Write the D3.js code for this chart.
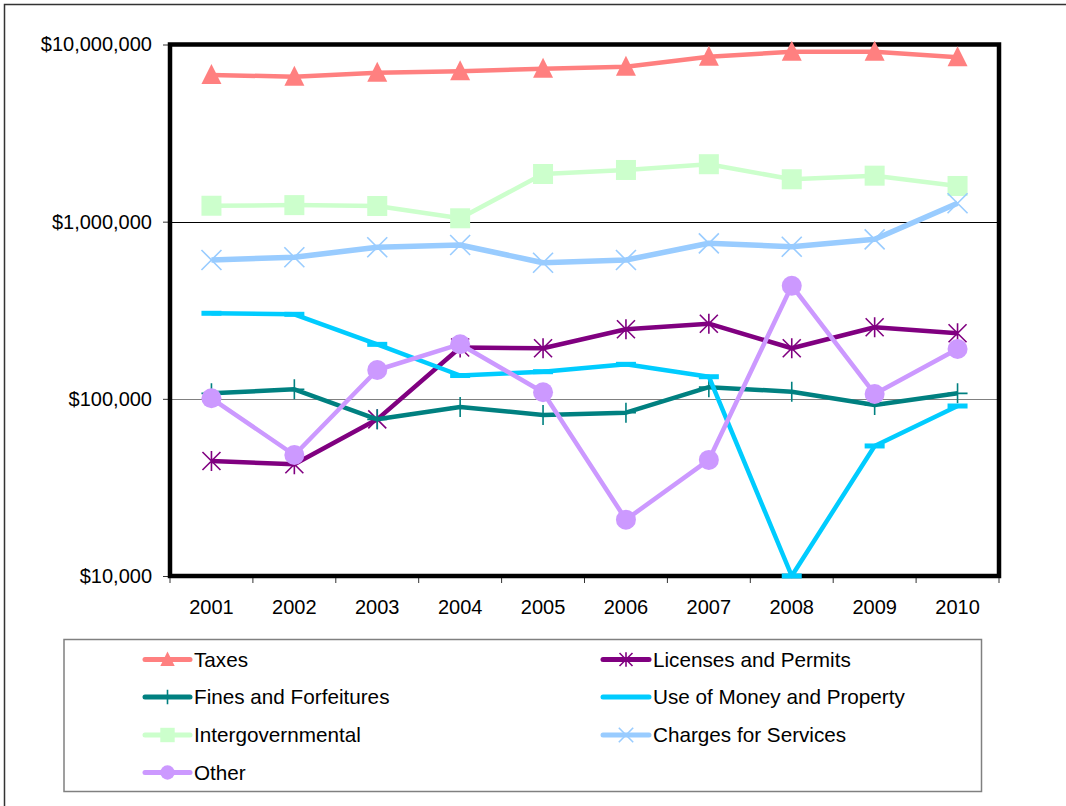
<!DOCTYPE html>
<html>
<head>
<meta charset="utf-8">
<script src="https://cdn.jsdelivr.net/npm/d3@7"></script>
<style>
  html, body { margin: 0; padding: 0; background: #fff; }
  svg { display: block; font-family: "Liberation Sans", Arial, sans-serif; }
</style>
</head>
<body>
<svg id="chart" width="1066" height="806"></svg>
<script>
// Fiscal years on the category axis
const years = ["2001", "2002", "2003", "2004", "2005", "2006", "2007", "2008", "2009", "2010"];

// Revenue by source (dollars)
const taxes              = [6730000, 6580000, 6930000, 7060000, 7300000, 7490000, 8530000, 9100000, 9100000, 8470000];
const licensesPermits    = [44600, 42700, 76600, 195000, 192900, 247000, 265500, 192900, 253500, 234400];
const finesForfeitures   = [107400, 113200, 76600, 89900, 81100, 83500, 116400, 109700, 92300, 107400];
const useOfMoney         = [304000, 300000, 203000, 135400, 142300, 156600, 133300, 10000, 54200, 91100];
const intergovernmental  = [1230000, 1240000, 1226000, 1045000, 1858000, 1958000, 2110000, 1735000, 1818000, 1590000];
const chargesForServices = [607700, 629500, 716700, 738400, 586700, 607700, 754800, 722000, 795000, 1270000];
const other              = [100700, 48200, 145500, 203400, 108900, 20800, 45200, 435000, 106500, 191000];

// Value axis ticks
const yTicks = [10000, 100000, 1000000, 10000000];

const series = [
  { name: "Taxes",                     values: taxes,              color: "#FF8080", marker: "triangle", width: 4.5 },
  { name: "Licenses and Permits",      values: licensesPermits,    color: "#800080", marker: "star",     width: 4.5 },
  { name: "Fines and Forfeitures",     values: finesForfeitures,   color: "#008080", marker: "plus",     width: 4.5 },
  { name: "Use of Money and Property", values: useOfMoney,         color: "#00CCFF", marker: "dash",     width: 4.5 },
  { name: "Intergovernmental",         values: intergovernmental,  color: "#CCFFCC", marker: "square",   width: 4.5 },
  { name: "Charges for Services",      values: chargesForServices, color: "#99CCFF", marker: "x",        width: 5.5 },
  { name: "Other",                     values: other,              color: "#CC99FF", marker: "circle",   width: 4.5 }
];

const svg = d3.select("#chart");
const plot = { left: 170, right: 999, top: 44.5, bottom: 576 };

const x = d3.scaleBand().domain(years).range([plot.left, plot.right]).padding(0);
const y = d3.scaleLog().domain([1e4, 1e7]).range([plot.bottom, plot.top]);

// Outer chart-area frame (runs off the right and bottom edges)
svg.append("path")
  .attr("d", "M4.5,806 L4.5,4.5 L1066,4.5")
  .attr("fill", "none")
  .attr("stroke", "#333")
  .attr("stroke-width", 1.5);

// Horizontal gridlines at interior decades
svg.append("g")
  .selectAll("line")
  .data(yTicks.filter(v => v > 1e4 && v < 1e7))
  .join("line")
  .attr("x1", plot.left).attr("x2", plot.right)
  .attr("y1", d => Math.round(y(d)) + 0.5).attr("y2", d => Math.round(y(d)) + 0.5)
  .attr("stroke", d => d === 1e6 ? "#000" : "#808080")
  .attr("stroke-width", 1);

// Value axis
const yAxis = svg.append("g")
  .attr("transform", `translate(${plot.left},0)`)
  .call(d3.axisLeft(y).tickValues(yTicks).tickFormat(d3.format("$,")).tickSize(7).tickPadding(11));
yAxis.select(".domain").remove();
yAxis.selectAll(".tick line").attr("stroke", "#333");
yAxis.selectAll("text").attr("font-size", 20).attr("fill", "#000")
  .attr("font-family", "'Liberation Sans', Arial, sans-serif");

// Category axis labels
const xAxis = svg.append("g")
  .attr("transform", `translate(0,${plot.bottom})`)
  .call(d3.axisBottom(x).tickSize(0).tickPadding(24));
xAxis.select(".domain").remove();
xAxis.selectAll("text").attr("font-size", 20).attr("fill", "#000")
  .attr("font-family", "'Liberation Sans', Arial, sans-serif");

// Category tick marks at band boundaries
const edges = years.map(d => x(d)).concat([x(years[years.length - 1]) + x.bandwidth()]);
svg.append("g")
  .selectAll("line")
  .data(edges)
  .join("line")
  .attr("x1", d => d).attr("x2", d => d)
  .attr("y1", plot.bottom).attr("y2", plot.bottom + 7)
  .attr("stroke", "#333").attr("stroke-width", 1);

// Plot-area frame
svg.append("rect")
  .attr("x", plot.left).attr("y", plot.top)
  .attr("width", plot.right - plot.left).attr("height", plot.bottom - plot.top)
  .attr("fill", "none")
  .attr("stroke", "#000")
  .attr("stroke-width", 4.5);

// Marker drawing, s = scale factor
function drawMarker(g, type, color, s) {
  const h = 10 * s;
  switch (type) {
    case "triangle":
      g.append("path").attr("d", `M0,${-11 * s} L${h},${9 * s} L${-h},${9 * s} Z`).attr("fill", color);
      break;
    case "square":
      g.append("rect").attr("x", -h).attr("y", -h).attr("width", 2 * h).attr("height", 2 * h).attr("fill", color);
      break;
    case "circle":
      g.append("circle").attr("r", h).attr("fill", color);
      break;
    case "dash":
      g.append("rect").attr("x", -h).attr("y", -2.5 * s).attr("width", 2 * h).attr("height", 5 * s).attr("fill", color);
      break;
    case "star":
      g.append("path").attr("d", `M${-9 * s},${-9 * s}L${9 * s},${9 * s}M${-9 * s},${9 * s}L${9 * s},${-9 * s}M0,${-h}L0,${h}`)
        .attr("stroke", color).attr("stroke-width", 1.6).attr("fill", "none");
      break;
    case "x":
      g.append("path").attr("d", `M${-h},${-h}L${h},${h}M${-h},${h}L${h},${-h}`)
        .attr("stroke", color).attr("stroke-width", 1.6).attr("fill", "none");
      break;
    case "plus":
      g.append("path").attr("d", `M0,${-h}L0,${h}M${-h},0L${h},0`)
        .attr("stroke", color).attr("stroke-width", 1.6).attr("fill", "none");
      break;
  }
}

const line = d3.line()
  .x((d, i) => x(years[i]) + x.bandwidth() / 2)
  .y(d => y(d));

// Series: line then markers, each series stacked over the previous
series.forEach(s => {
  const g = svg.append("g").attr("class", "series");
  g.append("path")
    .datum(s.values)
    .attr("d", line)
    .attr("fill", "none")
    .attr("stroke", s.color)
    .attr("stroke-width", s.width)
    .attr("stroke-linejoin", "round");
  g.selectAll("g.marker")
    .data(s.values)
    .join("g")
    .attr("class", "marker")
    .attr("transform", (d, i) => `translate(${x(years[i]) + x.bandwidth() / 2},${y(d)})`)
    .each(function () { drawMarker(d3.select(this), s.marker, s.color, 1); });
});

// Legend
const legend = svg.append("g");
legend.append("rect")
  .attr("x", 64).attr("y", 639.5).attr("width", 917.5).attr("height", 152)
  .attr("fill", "#fff").attr("stroke", "#808080").attr("stroke-width", 1.5);

const cols = [{ x1: 145, x2: 190, tx: 194 }, { x1: 603, x2: 649, tx: 653 }];
const rowY = [659.5, 697, 735, 772.5];

series.forEach((s, i) => {
  const c = cols[i % 2];
  const ry = rowY[Math.floor(i / 2)];
  const item = legend.append("g");
  item.append("line")
    .attr("x1", c.x1).attr("x2", c.x2).attr("y1", ry).attr("y2", ry)
    .attr("stroke", s.color).attr("stroke-width", 5).attr("stroke-linecap", "round");
  const m = item.append("g").attr("transform", `translate(${(c.x1 + c.x2) / 2},${ry})`);
  drawMarker(m, s.marker, s.color, 0.72);
  item.append("text")
    .attr("x", c.tx).attr("y", ry).attr("dy", "0.35em")
    .attr("font-size", 20.7).attr("fill", "#000")
    .text(s.name);
});
</script>
</body>
</html>
